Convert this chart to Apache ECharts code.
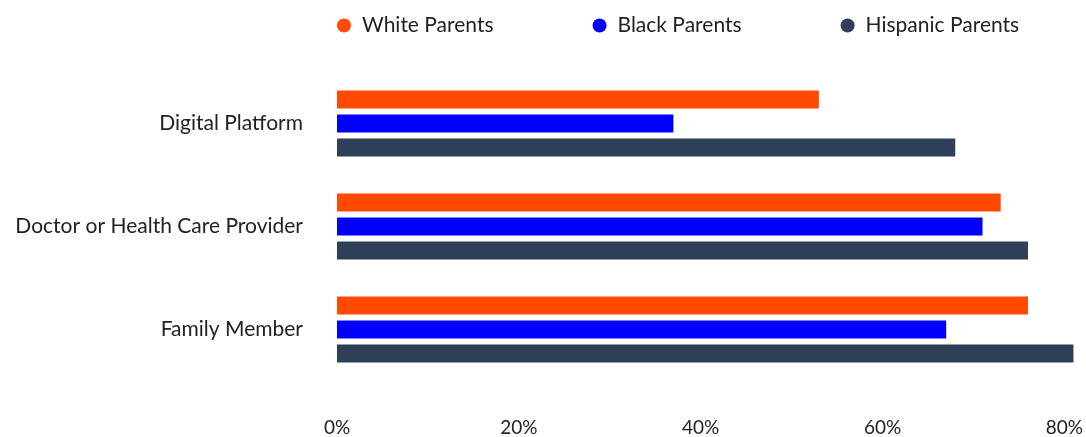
<!DOCTYPE html>
<html><head><meta charset="utf-8">
<script src="https://cdn.jsdelivr.net/npm/echarts@6/dist/echarts.min.js"></script>
<style>html,body{margin:0;padding:0;background:#fff}#c{width:1086px;height:437px}</style>
</head><body><div id="c"></div>
<script>
const categories = ['Digital Platform', 'Doctor or Health Care Provider', 'Family Member'];
const seriesNames = ['White Parents', 'Black Parents', 'Hispanic Parents'];
const whiteParents = [53, 73, 76];
const blackParents = [37, 71, 67];
const hispanicParents = [68, 76, 81];
const tickValues = [0, 20, 40, 60, 80];
const colors = ['#FF4A00', '#0000FF', '#2E4057'];

const font = 'Lato, "Noto Sans", sans-serif';
const chart = echarts.init(document.getElementById('c'), null, {renderer: 'canvas'});
const values = [whiteParents, blackParents, hispanicParents];
chart.setOption({
  animation: false,
  color: colors,
  textStyle: {fontFamily: font},
  legend: {
    left: 332, top: 10, icon: 'circle', itemWidth: 14, itemHeight: 14, itemGap: 99,
    textStyle: {fontSize: 21, color: '#222', fontFamily: font, padding: [0, 0, 0, 6]},
    data: seriesNames
  },
  grid: {left: 337, right: 11, top: 72, bottom: 55, containLabel: false},
  xAxis: {
    type: 'value', min: 0, max: 81, interval: 20,
    splitLine: {show: false}, axisLine: {show: false}, axisTick: {show: false},
    axisLabel: {
      fontSize: 19, color: '#222', fontFamily: font, margin: 37,
      formatter: v => tickValues.indexOf(v) >= 0 ? v + '%' : ''
    }
  },
  yAxis: {
    type: 'category', data: categories, inverse: true,
    axisLine: {show: false}, axisTick: {show: false},
    axisLabel: {fontSize: 21, color: '#222', fontFamily: font, margin: 34}
  },
  series: seriesNames.map((n, i) => ({
    name: n, type: 'bar', data: values[i], barWidth: 18, barGap: '33%'
  }))
});
</script></body></html>
